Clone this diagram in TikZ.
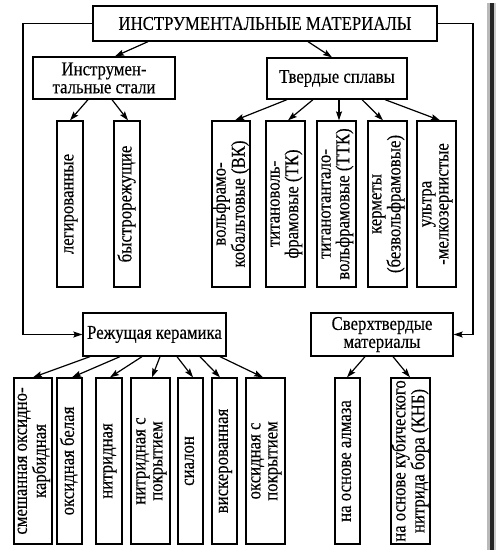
\documentclass[tikz,border=0pt]{standalone}
\usepackage{fontspec}
\setmainfont[FakeStretch=0.86,FakeBold=0.3]{Liberation Serif}
\usetikzlibrary{arrows.meta,calc}
\newcommand{\vtext}[1]{\rotatebox{90}{\begin{tabular}{@{}c@{}}#1\end{tabular}}}
\begin{document}
\begin{tikzpicture}[x=1bp,y=-1bp,
  box/.style={draw, line width=1.3bp, inner sep=0pt, align=center,
    font=\fontsize{19.5bp}{17bp}\selectfont},
  hbox/.style={box, font=\fontsize{19.5bp}{18bp}\selectfont},
  vbox/.style={box, minimum height=166bp},
  arr/.style={line width=1.2bp, -{Stealth[length=9bp,width=6bp,inset=1.5bp]}}]
\useasboundingbox (0,0) rectangle (496,550);
% shadow bar on the right
\fill[gray!55] (487,3) rectangle (489.5,550);
\fill[black!85] (489.5,3) rectangle (494,550);
\fill[gray!40] (494,3) rectangle (495.5,550);

% top
\node[hbox, minimum width=344bp, minimum height=35bp] (top) at (265,23.5) {ИНСТРУМЕНТАЛЬНЫЕ МАТЕРИАЛЫ};
% level 2
\node[hbox, minimum width=142bp, minimum height=42bp] (instr) at (104,78) {Инструмен-\\тальные стали};
\node[hbox, minimum width=140bp, minimum height=41bp] (tv) at (337,78.5) {Твердые сплавы};
% level 3
\node[vbox, minimum width=26bp] (leg) at (70,204) {\vtext{легированные}};
\node[vbox, minimum width=26bp] (bys) at (127,204) {\vtext{быстрорежущие}};
\node[vbox, minimum width=38bp] (vk) at (231,204) {\vtext{вольфрамо-\\кобальтовые (ВК)}};
\node[vbox, minimum width=39bp] (tk) at (285.5,204) {\vtext{титановоль-\\фрамовые (ТК)}};
\node[vbox, minimum width=39bp] (ttk) at (336.5,204) {\vtext{титанотантало-\\вольфрамовые (ТТК)}};
\node[vbox, minimum width=39bp] (ker) at (387.5,204) {\vtext{керметы\\(безвольфрамовые)}};
\node[vbox, minimum width=39bp] (ult) at (436.5,204) {\vtext{ультра\\-мелкозернистые}};
% level 4
\node[hbox, minimum width=143bp, minimum height=43bp] (rez) at (154.5,334.5) {Режущая керамика};
\node[hbox, minimum width=142bp, minimum height=43bp] (sv) at (382,334.5) {Сверхтвердые\\материалы};
% level 5
\node[vbox, minimum width=38bp] (b1) at (33,461) {\vtext{смешанная оксидно-\\карбидная}};
\node[vbox, minimum width=25bp] (b2) at (69.5,461) {\vtext{оксидная белая}};
\node[vbox, minimum width=26bp] (b3) at (109,461) {\vtext{нитридная}};
\node[vbox, minimum width=39bp] (b4) at (150.5,461) {\vtext{нитридная с\\покрытием}};
\node[vbox, minimum width=25bp] (b5) at (190.5,461) {\vtext{сиалон}};
\node[vbox, minimum width=25bp] (b6) at (224.5,461) {\vtext{вискерованная}};
\node[vbox, minimum width=39bp] (b7) at (265.5,461) {\vtext{оксидная с\\покрытием}};
\node[vbox, minimum width=25bp] (b8) at (347.5,461) {\vtext{на основе алмаза}};
\node[vbox, minimum width=39bp] (b9) at (410.5,461) {\vtext{на основе кубического\\нитрида бора (КНБ)}};

% side connectors
\coordinate (lc) at (23,334.5);
\coordinate (rc) at (473,334.5);
\draw[arr] (top.west) -| (lc) -- (rez.west);
\draw[arr] (top.east) -| (rc) -- (sv.east);

% arrows
\draw[arr] ([xshift=-117bp]top.south) -- ([xshift=11bp]instr.north);
\draw[arr] ([xshift=43bp]top.south) -- ([xshift=-5bp]tv.north);

\draw[arr] ([xshift=-16bp]instr.south) -- (leg.north);
\draw[arr] ([xshift=8bp]instr.south) -- ([xshift=1bp]bys.north);

\draw[arr] ([xshift=-50bp]tv.south) -- ([xshift=4bp]vk.north);
\draw[arr] ([xshift=-24bp]tv.south) -- ([xshift=2.5bp]tk.north);
\draw[arr] ([xshift=2bp]tv.south) -- ([xshift=2.5bp]ttk.north);
\draw[arr] ([xshift=25bp]tv.south) -- ([xshift=-4.5bp]ker.north);
\draw[arr] ([xshift=48bp]tv.south) -- ([xshift=3.5bp]ult.north);

\draw[arr] ([xshift=-64.5bp]rez.south) -- (b1.north);
\draw[arr] ([xshift=-34.5bp]rez.south) -- ([xshift=2.5bp]b2.north);
\draw[arr] ([xshift=-12.5bp]rez.south) -- ([xshift=1bp]b3.north);
\draw[arr] ([xshift=5.5bp]rez.south) -- ([xshift=1.5bp]b4.north);
\draw[arr] ([xshift=22.5bp]rez.south) -- ([xshift=2.5bp]b5.north);
\draw[arr] ([xshift=45.5bp]rez.south) -- ([xshift=-4.5bp]b6.north);
\draw[arr] ([xshift=65.5bp]rez.south) -- ([xshift=-2.5bp]b7.north);

\draw[arr] ([xshift=-17bp]sv.south) -- ([xshift=-0.5bp]b8.north);
\draw[arr] ([xshift=11bp]sv.south) -- ([xshift=-0.5bp]b9.north);
\end{tikzpicture}
\end{document}
